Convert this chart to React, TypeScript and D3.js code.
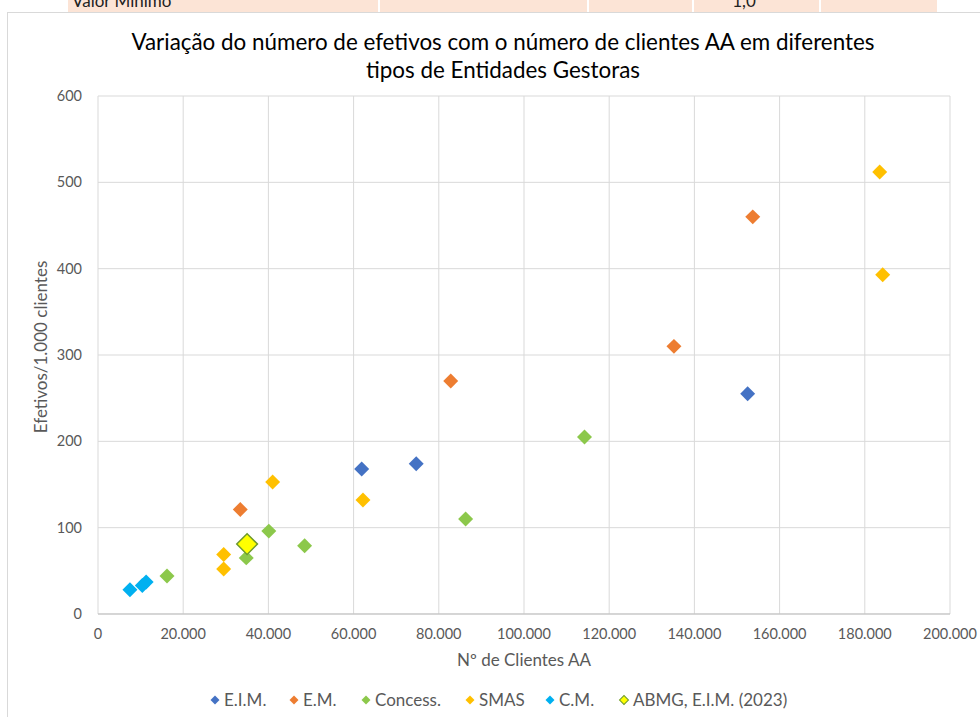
import React from 'react';
import * as d3 from 'd3';

// values (x = nº clientes AA, y = efetivos/1.000 clientes)
const eimX = [61900, 74700, 152500];
const eimY = [168, 174, 255];
const emX = [33400, 82800, 135200, 153700];
const emY = [121, 270, 310, 460];
const concessX = [16200, 34800, 40100, 48500, 86300, 114200];
const concessY = [44, 65, 96, 79, 110, 205];
const smasX = [29500, 29500, 41000, 62200, 183500, 184200];
const smasY = [69, 52, 153, 132, 512, 393];
const cmX = [7500, 10400, 11300];
const cmY = [28, 33, 37];
const abmgX = [35000];
const abmgY = [81];

const xTicks = [0, 20000, 40000, 60000, 80000, 100000, 120000, 140000, 160000, 180000, 200000];
const yTicks = [0, 100, 200, 300, 400, 500, 600];

const seriesNames = ['E.I.M.', 'E.M.', 'Concess.', 'SMAS', 'C.M.', 'ABMG, E.I.M. (2023)'];
const seriesColors = ['#4472C4', '#ED7D31', '#8CC84B', '#FFC000', '#00B0F0', '#FFFF00'];

const WIDTH = 980,
  HEIGHT = 717;
const MARGIN = { top: 96, right: 30, bottom: 103, left: 98 };
const FONT = 'Lato, "Noto Sans", sans-serif';

const fmt = (v: number) => d3.format(',')(v).replace(/,/g, '.');

export default function App() {
  const boundsWidth = WIDTH - MARGIN.left - MARGIN.right;
  const boundsHeight = HEIGHT - MARGIN.top - MARGIN.bottom;

  const xScale = d3.scaleLinear().domain([0, 200000]).range([0, boundsWidth]);
  const yScale = d3.scaleLinear().domain([0, 600]).range([boundsHeight, 0]);

  const series = [
    { xs: eimX, ys: eimY },
    { xs: emX, ys: emY },
    { xs: concessX, ys: concessY },
    { xs: smasX, ys: smasY },
    { xs: cmX, ys: cmY },
    { xs: abmgX, ys: abmgY },
  ];

  const diamond = d3.symbol(d3.symbolSquare, 112)();
  const bigDiamond = d3.symbol(d3.symbolSquare, 215)();
  const smallDiamond = d3.symbol(d3.symbolSquare, 40)();

  // legend positions (x of the marker)
  const legendX = [215, 294, 366, 470, 550, 624];

  return (
    <div style={{ position: 'fixed', left: 0, top: 0 }}>
      <svg width={WIDTH} height={HEIGHT} style={{ display: 'block', background: '#fff' }}>
        {/* table row cut off above the chart */}
        <g>
          <rect x={68} y={0} width={310} height={12} fill="#FCE4D6" />
          <rect x={380} y={0} width={207} height={12} fill="#FCE4D6" />
          <rect x={589} y={0} width={103} height={12} fill="#FCE4D6" />
          <rect x={694} y={0} width={125} height={12} fill="#FCE4D6" />
          <rect x={821} y={0} width={116} height={12} fill="#FCE4D6" />
          <text x={72} y={7} fontSize={17} fontFamily={FONT} fill="#222">Valor Mínimo</text>
          <text x={744} y={7} fontSize={17} fontFamily={FONT} fill="#222" textAnchor="middle">1,0</text>
          <rect x={0} y={12} width={WIDTH} height={HEIGHT} fill="#fff" />
        </g>

        {/* chart frame */}
        <rect x={7.5} y={12.5} width={WIDTH + 10} height={HEIGHT + 10} fill="none" stroke="#D9D9D9" />

        {/* title */}
        <text x={503} y={50} textAnchor="middle" fontSize={22.4} fontFamily={FONT} fill="#000">
          Variação do número de efetivos com o número de clientes AA em diferentes
        </text>
        <text x={503} y={78} textAnchor="middle" fontSize={22.4} fontFamily={FONT} fill="#000">
          tipos de Entidades Gestoras
        </text>

        <g transform={`translate(${MARGIN.left},${MARGIN.top})`}>
          {/* grid */}
          {yTicks.map(t => (
            <line key={'gy' + t} x1={0} x2={boundsWidth} y1={yScale(t)} y2={yScale(t)} stroke="#D9D9D9" strokeWidth={1} />
          ))}
          {xTicks.map(t => (
            <line key={'gx' + t} x1={xScale(t)} x2={xScale(t)} y1={0} y2={boundsHeight} stroke="#D9D9D9" strokeWidth={1} />
          ))}
          <line x1={0} x2={boundsWidth} y1={boundsHeight} y2={boundsHeight} stroke="#BFBFBF" />

          {/* tick labels */}
          {yTicks.map(t => (
            <text key={'ly' + t} x={-16} y={yScale(t)} dy="0.35em" textAnchor="end" fontSize={14.5} fontFamily={FONT} fill="#595959">
              {t}
            </text>
          ))}
          {xTicks.map(t => (
            <text key={'lx' + t} x={xScale(t)} y={boundsHeight + 20} dy="0.35em" textAnchor="middle" fontSize={14.5} fontFamily={FONT} fill="#595959">
              {fmt(t)}
            </text>
          ))}

          {/* axis titles */}
          <text x={boundsWidth / 2} y={boundsHeight + 46} dy="0.35em" textAnchor="middle" fontSize={17} fontFamily={FONT} fill="#595959">
            Nº de Clientes AA
          </text>
          <text
            transform={`translate(${-57},${boundsHeight / 2 - 8}) rotate(-90)`}
            dy="0.35em"
            textAnchor="middle"
            fontSize={17}
            fontFamily={FONT}
            fill="#595959"
          >
            Efetivos/1.000 clientes
          </text>

          {/* points */}
          {series.map((s, si) =>
            s.xs.map((xv, i) => (
              <path
                key={si + '-' + i}
                d={si === 5 ? bigDiamond : diamond}
                transform={`translate(${xScale(xv)},${yScale(s.ys[i])}) rotate(45)`}
                fill={seriesColors[si]}
                stroke={si === 5 ? '#6E9A2E' : 'none'}
                strokeWidth={si === 5 ? 1.5 : 0}
              />
            ))
          )}
        </g>

        {/* legend */}
        <g>
          {seriesNames.map((name, i) => (
            <g key={name} transform={`translate(${legendX[i]},${700})`}>
              <path
                d={smallDiamond}
                transform="rotate(45)"
                fill={seriesColors[i]}
                stroke={i === 5 ? '#6E9A2E' : 'none'}
                strokeWidth={i === 5 ? 1 : 0}
              />
              <text x={9} y={0} dy="0.35em" fontSize={17} fontFamily={FONT} fill="#595959">
                {name}
              </text>
            </g>
          ))}
        </g>
      </svg>
    </div>
  );
}
